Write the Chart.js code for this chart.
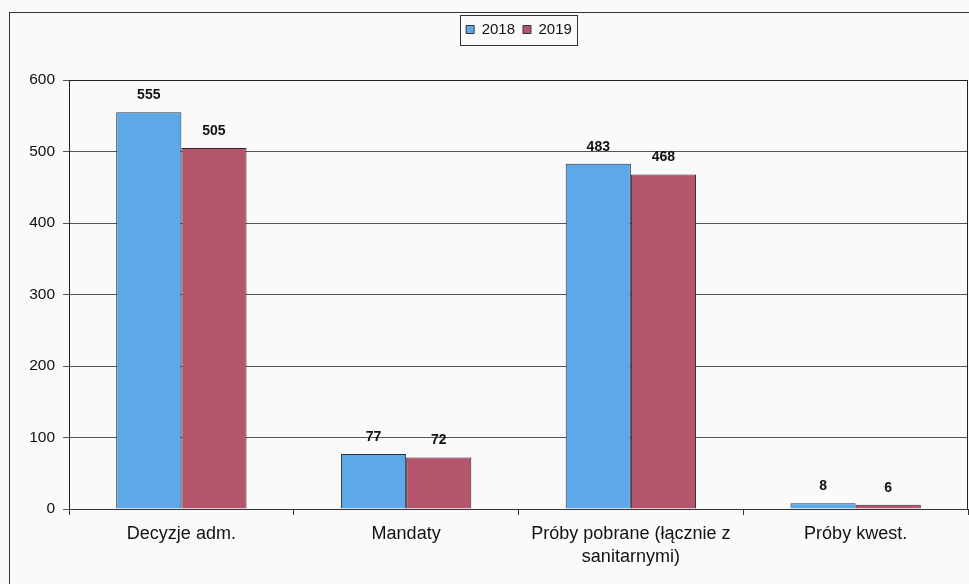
<!DOCTYPE html>
<html>
<head>
<meta charset="utf-8">
<script src="https://cdn.jsdelivr.net/npm/chart.js@4/dist/chart.umd.min.js"></script>
<style>
  html, body { margin: 0; padding: 0; background: #fafafa; }
  #wrap { width: 969px; height: 584px; }
</style>
</head>
<body>
<div id="wrap"><canvas id="myChart" width="969" height="584"></canvas></div>
<script>
const categories = ["Decyzje adm.", "Mandaty", ["Próby pobrane (łącznie z", "sanitarnymi)"], "Próby kwest."];
const values2018 = [555, 77, 483, 8];
const values2019 = [505, 72, 468, 6];
const yTicks = [0, 100, 200, 300, 400, 500, 600];

const FONT = "'Liberation Sans', Arial, sans-serif";

// outer frame, plot frame, legend box; legend shifted right like the original
const frames = {
  id: "frames",
  afterLayout(chart) {
    const lg = chart.legend;
    lg.left += 35;
    lg.right += 35;
  },
  afterDraw(chart) {
    const ctx = chart.ctx;
    const a = chart.chartArea;
    ctx.save();
    ctx.strokeStyle = "#333";
    ctx.lineWidth = 1;
    ctx.strokeRect(9.5, 12.5, 980, 600);
    ctx.strokeStyle = "#222";
    ctx.beginPath();
    ctx.moveTo(a.left, a.top + 0.5);
    ctx.lineTo(a.right - 0.5, a.top + 0.5);
    ctx.lineTo(a.right - 0.5, a.bottom);
    ctx.stroke();
    ctx.strokeStyle = "#333";
    ctx.strokeRect(460.5, 15.5, 117, 30);
    ctx.restore();
  }
};

// value labels over bars
const valueLabels = {
  id: "valueLabels",
  afterDatasetsDraw(chart) {
    const ctx = chart.ctx;
    ctx.save();
    ctx.font = "bold 14px " + FONT;
    ctx.fillStyle = "#111";
    ctx.textAlign = "center";
    ctx.textBaseline = "bottom";
    chart.data.datasets.forEach((ds, i) => {
      chart.getDatasetMeta(i).data.forEach((bar, j) => {
        ctx.fillText(ds.data[j], bar.x, bar.y - 10);
      });
    });
    ctx.restore();
  }
};

const data = {
  labels: categories,
  datasets: [
    {
      label: "2018",
      data: values2018,
      backgroundColor: "#5da8e8",
      borderColor: "#2a3440",
      borderWidth: 1,
      categoryPercentage: 0.58,
      barPercentage: 1.0,
    },
    {
      label: "2019",
      data: values2019,
      backgroundColor: "#b5566f",
      borderColor: "#3a2228",
      borderWidth: 1,
      categoryPercentage: 0.58,
      barPercentage: 1.0,
    },
  ],
};

const config = {
  type: "bar",
  data: data,
  plugins: [frames, valueLabels],
  options: {
    responsive: false,
    animation: false,
    layout: { padding: { top: 14, right: 1, left: 0, bottom: 0 } },
    plugins: {
      // empty title used only as a spacer between legend and plot
      title: {
        display: true,
        text: "",
        weight: 500,
        font: { size: 10 },
        padding: { top: 0, bottom: 21 },
      },
      tooltip: { enabled: false },
      legend: {
        display: true,
        position: "top",
        labels: {
          font: { family: FONT, size: 15 },
          color: "#111",
          boxWidth: 8,
          boxHeight: 8,
          padding: 8,
          generateLabels(chart) {
            return chart.data.datasets.map((ds, i) => ({
              text: ds.label,
              fillStyle: ds.backgroundColor,
              strokeStyle: "#333",
              lineWidth: 1,
              datasetIndex: i,
              fontColor: "#111",
            }));
          },
        },
      },
    },
    scales: {
      x: {
        afterFit(scale) { scale.height = 75; },
        grid: {
          display: true,
          drawOnChartArea: false,
          drawTicks: true,
          tickLength: 6,
          color: "#333",
          offset: true,
        },
        border: { display: true, color: "#333", width: 1 },
        ticks: {
          font: { family: FONT, size: 18, lineHeight: 1.25 },
          color: "#111",
          padding: 8,
          maxRotation: 0,
          autoSkip: false,
        },
      },
      y: {
        min: 0,
        max: 600,
        afterFit(scale) { scale.width = 69; },
        afterBuildTicks(scale) { scale.ticks = yTicks.map(v => ({ value: v })); },
        grid: {
          color: "#555",
          lineWidth: 1,
          tickLength: 6,
        },
        border: { display: true, color: "#222", width: 1 },
        ticks: {
          font: { family: FONT, size: 15.5 },
          color: "#111",
          padding: 8,
        },
      },
    },
  },
};

new Chart(document.getElementById("myChart").getContext("2d"), config);
</script>
</body>
</html>
